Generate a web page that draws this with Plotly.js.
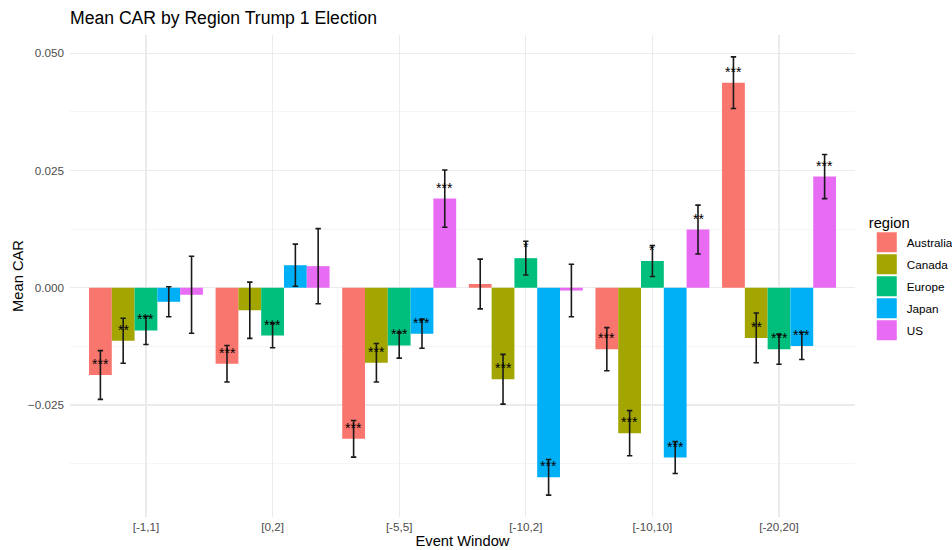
<!DOCTYPE html>
<html>
<head>
<meta charset="utf-8">
<script src="https://cdn.plot.ly/plotly-3.0.1.min.js"></script>
<style>
  html, body { margin: 0; padding: 0; background: #ffffff; }
  #chart { width: 952px; height: 550px; }
</style>
</head>
<body>
<div id="chart"></div>
<script>
// Event windows (x categories)
const windows = ["[-1,1]", "[0,2]", "[-5,5]", "[-10,2]", "[-10,10]", "[-20,20]"];

// Regions and their ggplot-style hue colours
const regions = ["Australia", "Canada", "Europe", "Japan", "US"];
const regionColors = ["#F8766D", "#A3A500", "#00BF7D", "#00B0F6", "#E76BF3"];

// Mean cumulative abnormal return per window
const carAustralia = [-0.0186, -0.0162, -0.0322,  0.0008, -0.0131,  0.0437];
const carCanada    = [-0.0113, -0.0048, -0.0160, -0.0195, -0.0310, -0.0107];
const carEurope    = [-0.0091, -0.0102, -0.0123,  0.0063,  0.0057, -0.0131];
const carJapan     = [-0.0030,  0.0048, -0.0098, -0.0404, -0.0362, -0.0124];
const carUS        = [-0.0015,  0.0046,  0.0190, -0.0006,  0.0124,  0.0237];

// Half-width of the confidence interval around each mean
const ciAustralia = [0.0052, 0.0039, 0.0039, 0.0053, 0.0046, 0.0055];
const ciCanada    = [0.0048, 0.0060, 0.0041, 0.0053, 0.0048, 0.0053];
const ciEurope    = [0.0030, 0.0026, 0.0027, 0.0036, 0.0033, 0.0032];
const ciJapan     = [0.0032, 0.0045, 0.0031, 0.0038, 0.0034, 0.0029];
const ciUS        = [0.0082, 0.0080, 0.0061, 0.0056, 0.0052, 0.0047];

// Significance stars
const sigAustralia = ["***", "***", "***", "",    "***", "***"];
const sigCanada    = ["**",  "",    "***", "***", "***", "**"];
const sigEurope    = ["***", "***", "***", "*",   "*",   "***"];
const sigJapan     = ["",    "",    "***", "***", "***", "***"];
const sigUS        = ["",    "",    "***", "",    "**",  "***"];

const means = [carAustralia, carCanada, carEurope, carJapan, carUS];
const cis   = [ciAustralia, ciCanada, ciEurope, ciJapan, ciUS];
const sigs  = [sigAustralia, sigCanada, sigEurope, sigJapan, sigUS];

const FONT = "Liberation Sans, Arial, Helvetica, sans-serif";
const BAR_GAP = 0.1;
const barWidth = (1 - BAR_GAP) / regions.length;

const traces = regions.map((name, i) => ({
  type: "bar",
  name: name,
  legendgroup: name,
  x: windows,
  y: means[i],
  marker: { color: regionColors[i], line: { width: 0 } },
  error_y: {
    type: "data",
    array: cis[i],
    visible: true,
    color: "#1a1a1a",
    thickness: 1.6,
    width: 2.7
  },
  hoverinfo: "x+y+name"
}));

// Star labels sit just above each bar's mean, dodged like the bars
const starNotes = [];
regions.forEach((name, i) => {
  sigs[i].forEach((s, j) => {
    if (!s) return;
    starNotes.push({
      x: j + (i - (regions.length - 1) / 2) * barWidth,
      y: means[i][j],
      xref: "x", yref: "y",
      text: s,
      showarrow: false,
      yanchor: "middle",
      yshift: 11,
      font: { family: FONT, size: 14, color: "#000000" }
    });
  });
});

// y range: data extent padded by 5% on each side
let lo = Infinity, hi = -Infinity;
means.forEach((m, i) => m.forEach((v, j) => {
  lo = Math.min(lo, v - cis[i][j]);
  hi = Math.max(hi, v + cis[i][j]);
}));
const pad = (hi - lo) * 0.05;

const layout = {
  width: 952,
  height: 550,
  paper_bgcolor: "#ffffff",
  plot_bgcolor: "#ffffff",
  margin: { l: 70, r: 97, t: 35, b: 33, pad: 0, autoexpand: false },
  font: { family: FONT, color: "#000000" },
  title: {
    text: "Mean CAR by Region Trump 1 Election",
    x: 70 / 952, xref: "container", xanchor: "left",
    y: 1 - 18 / 550, yref: "container", yanchor: "middle",
    font: { family: FONT, size: 17.6, color: "#000000" }
  },
  barmode: "group",
  bargap: BAR_GAP,
  bargroupgap: 0,
  xaxis: {
    type: "category",
    categoryorder: "array",
    categoryarray: windows,
    range: [-0.6, windows.length - 0.4],
    showgrid: true,
    gridcolor: "#ebebeb",
    gridwidth: 1.1,
    zeroline: false,
    showline: false,
    ticks: "",
    tickfont: { family: FONT, size: 11.7, color: "#4d4d4d" },
    ticklabelstandoff: 1,
    title: { text: "Event Window", standoff: 2, font: { family: FONT, size: 14.7, color: "#000000" } },
    fixedrange: true
  },
  yaxis: {
    range: [lo - pad, hi + pad],
    tick0: 0,
    dtick: 0.025,
    tickformat: ".3f",
    showgrid: true,
    gridcolor: "#ebebeb",
    gridwidth: 1.1,
    minor: { dtick: 0.0125, tick0: 0, showgrid: true, gridcolor: "#f2f2f2", gridwidth: 0.8 },
    zeroline: false,
    showline: false,
    ticks: "",
    tickfont: { family: FONT, size: 11.7, color: "#4d4d4d" },
    ticklabelstandoff: 5,
    title: { text: "Mean CAR", standoff: 0, font: { family: FONT, size: 14.7, color: "#000000" } },
    fixedrange: true
  },
  legend: {
    title: { text: "region", font: { family: FONT, size: 14.7, color: "#000000" } },
    font: { family: FONT, size: 11.7, color: "#000000" },
    x: 1.015, xanchor: "left",
    y: 0.64, yanchor: "top",
    traceorder: "grouped",
    tracegroupgap: 3,
    bgcolor: "rgba(0,0,0,0)",
    borderwidth: 0
  },
  annotations: starNotes,
  showlegend: true
};

// Enlarge the legend swatches to square keys
function enlargeKeys() {
  document.querySelectorAll(".legend .legendpoints path").forEach(p => {
    if (p.dataset.scaled) return;
    const t = p.getAttribute("transform") || "";
    p.setAttribute("transform", t + " scale(1.667)");
    p.dataset.scaled = "1";
  });
}

const gd = document.getElementById("chart");
Plotly.newPlot(gd, traces, layout, { displayModeBar: false, staticPlot: true }).then(() => {
  enlargeKeys();
  gd.on("plotly_afterplot", enlargeKeys);
});
</script>
</body>
</html>
